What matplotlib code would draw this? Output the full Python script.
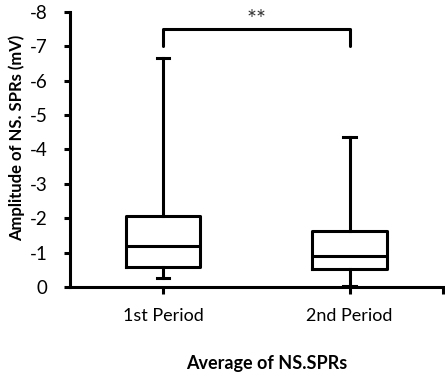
import matplotlib
matplotlib.use("Agg")
import matplotlib.pyplot as plt

plt.rcParams['font.family'] = ['Lato', 'DejaVu Sans']
plt.rcParams['axes.unicode_minus'] = False

# box statistics (mV, negative amplitudes)
periods = ['1st Period', '2nd Period']
whis_hi = [-6.67, -4.35]
q3_vals = [-2.05, -1.62]
medians = [-1.20, -0.89]
q1_vals = [-0.58, -0.51]
whis_lo = [-0.25, -0.03]
y_ticks = [0, -1, -2, -3, -4, -5, -6, -7, -8]

stats = []
for i in range(len(periods)):
    stats.append(dict(med=medians[i], q1=q1_vals[i], q3=q3_vals[i],
                      whislo=whis_lo[i], whishi=whis_hi[i], label=periods[i]))

fig = plt.figure(figsize=(4.45, 3.75), dpi=100)
ax = fig.add_axes([0.157, 0.235, 0.838, 0.733])

lw = 2.2
ax.bxp(stats, positions=[1, 2], widths=0.40, showfliers=False,
       boxprops=dict(color='black', linewidth=lw),
       medianprops=dict(color='black', linewidth=lw),
       whiskerprops=dict(color='black', linewidth=lw),
       capprops=dict(color='black', linewidth=lw), capwidths=0.065)

ax.set_xlim(0.5, 2.5)
ax.set_ylim(0, -8)
ax.set_yticks(y_ticks)
ax.set_yticklabels([str(v) for v in y_ticks])
ax.set_xticks([1, 2, 2.5])
ax.set_xticklabels(periods + [''])

for s in ['top', 'right']:
    ax.spines[s].set_visible(False)
for s in ['left', 'bottom']:
    ax.spines[s].set_linewidth(lw)
ax.tick_params(axis='y', length=4, width=lw, pad=12, labelsize=13.5)
ax.tick_params(axis='x', length=5, width=lw, pad=10, labelsize=13)

# significance bracket
ax.plot([1, 1, 2, 2], [-7.0, -7.5, -7.5, -7.0], color='black', lw=lw,
        clip_on=False, solid_capstyle='round')
ax.text(1.5, -7.78, '**', ha='center', va='center', fontsize=17,
        color='#333333')

fig.text(17 / 445, 1 - 138 / 375, 'Amplitude of NS. SPRs (mV)', rotation=90,
         ha='center', va='center', fontsize=12, fontweight='bold')
fig.text(0.6, 0.03, 'Average of NS.SPRs', ha='center', va='center',
         fontsize=13, fontweight='bold')

fig.savefig('out.png', dpi=100)
